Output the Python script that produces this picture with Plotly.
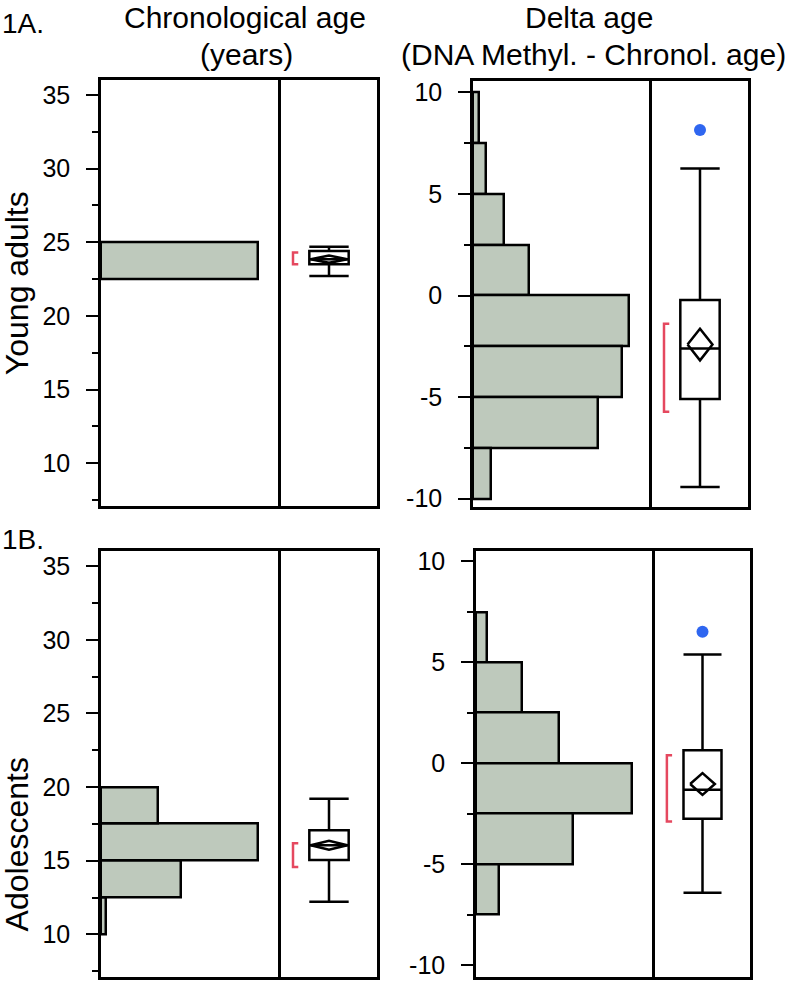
import plotly.graph_objects as go

W, H = 789, 987

# ---------------- data ----------------
bin_width = 2.5
# histograms (bin centres, percent of subjects)
ya_age_bins = [23.75]
ya_age_pct = [100.0]
ya_delta_bins = [8.75, 6.25, 3.75, 1.25, -1.25, -3.75, -6.25, -8.75]
ya_delta_pct = [1.1, 2.3, 5.6, 10.1, 28.2, 26.9, 22.6, 3.2]
ad_age_bins = [11.25, 13.75, 16.25, 18.75]
ad_age_pct = [1.7, 26.7, 52.7, 19.0]
ad_delta_bins = [6.25, 3.75, 1.25, -1.25, -3.75, -6.25]
ad_delta_pct = [2.6, 11.1, 20.0, 37.5, 23.3, 5.5]

# box stats: lower whisker, Q1, median, Q3, upper whisker
ya_age_box = [22.7, 23.5, 23.85, 24.4, 24.7]
ya_delta_box = [-9.42, -5.09, -2.6, -0.22, 6.25]
ad_age_box = [12.22, 15.04, 16.05, 17.06, 19.2]
ad_delta_box = [-6.42, -2.75, -1.32, 0.64, 5.39]

# mean diamonds: lower CI, mean, upper CI
ya_age_mean = [23.6, 23.85, 24.1]
ya_delta_mean = [-3.19, -2.41, -1.63]
ad_age_mean = [15.75, 16.05, 16.35]
ad_delta_mean = [-1.57, -1.03, -0.49]

# shortest half brackets
ya_age_short = [23.51, 24.31]
ya_delta_short = [-5.72, -1.39]
ad_age_short = [14.57, 16.18]
ad_delta_short = [-2.89, 0.39]

# outliers
ya_delta_out = [8.15]
ad_delta_out = [6.52]
no_out = []

# tick labels
age_ticks = [10, 15, 20, 25, 30, 35]
age_ticktext = ["10", "15", "20", "25", "30", "35"]
delta_ticks = [-10, -5, 0, 5, 10]
delta_ticktext = ["-10", "-5", "0", "5", "10"]

# ---------------- layout geometry (pixels) ----------------
def xf(px):
    return px / W

def yf(py):
    return 1 - py / H

FONT = "Liberation Sans, Arial, sans-serif"
GREEN = "#bec9bc"
RED = "#e5485f"
BLUE = "#2f66f0"
LW = 2.5

panels = [
    dict(bins=ya_age_bins, pct=ya_age_pct, box=ya_age_box, mean=ya_age_mean,
         short=ya_age_short, out=no_out, hist=(101, 281), bx=(281, 377), y=(77, 507),
         yr=[7.1, 36.0], tv=age_ticks, tt=age_ticktext, bw=0.41, dw=0.19),
    dict(bins=ya_delta_bins, pct=ya_delta_pct, box=ya_delta_box, mean=ya_delta_mean,
         short=ya_delta_short, out=ya_delta_out, hist=(473, 652), bx=(652, 748), y=(78, 508),
         yr=[-10.4, 10.55], tv=delta_ticks, tt=delta_ticktext, bw=0.41, dw=0.13),
    dict(bins=ad_age_bins, pct=ad_age_pct, box=ad_age_box, mean=ad_age_mean,
         short=ad_age_short, out=no_out, hist=(101, 281), bx=(281, 377), y=(553, 983),
         yr=[7.1, 36.0], tv=age_ticks, tt=age_ticktext, bw=0.41, dw=0.19),
    dict(bins=ad_delta_bins, pct=ad_delta_pct, box=ad_delta_box, mean=ad_delta_mean,
         short=ad_delta_short, out=ad_delta_out, hist=(476, 655), bx=(655, 750), y=(553, 983),
         yr=[-10.6, 10.5], tv=delta_ticks, tt=delta_ticktext, bw=0.40, dw=0.13),
]

def ref(letter, n):
    return letter if n == 1 else f"{letter}{n}"

def key(letter, n):
    return f"{letter}axis" if n == 1 else f"{letter}axis{n}"

fig = go.Figure()
layout = {}

for i, p in enumerate(panels):
    nh = 2 * i + 1
    nb = 2 * i + 2
    xh, yh = ref("x", nh), ref("y", nh)
    xb, yb = ref("x", nb), ref("y", nb)
    ydom = [yf(p["y"][1]), yf(p["y"][0])]

    # histogram
    fig.add_trace(go.Bar(
        y=p["bins"], x=p["pct"], orientation="h", width=bin_width,
        marker=dict(color=GREEN, line=dict(color="black", width=LW)),
        xaxis=xh, yaxis=yh, showlegend=False, hoverinfo="skip"))

    # box plot
    lw, q1, med, q3, uw = p["box"]
    fig.add_trace(go.Box(
        x=[0], q1=[q1], median=[med], q3=[q3], lowerfence=[lw], upperfence=[uw],
        width=p["bw"], whiskerwidth=1, fillcolor="white",
        line=dict(color="black", width=LW), boxpoints=False,
        xaxis=xb, yaxis=yb, showlegend=False, hoverinfo="skip"))

    # mean diamond
    lo, m, hi = p["mean"]
    dw = p["dw"]
    fig.add_trace(go.Scatter(
        x=[-dw, 0, dw, 0, -dw], y=[m, hi, m, lo, m], mode="lines",
        line=dict(color="black", width=LW), xaxis=xb, yaxis=yb,
        showlegend=False, hoverinfo="skip"))

    # shortest-half bracket
    s0, s1 = p["short"]
    fig.add_trace(go.Scatter(
        x=[-0.32, -0.375, -0.375, -0.32], y=[s1, s1, s0, s0], mode="lines",
        line=dict(color=RED, width=LW), xaxis=xb, yaxis=yb,
        showlegend=False, hoverinfo="skip"))

    # outliers
    if p["out"]:
        fig.add_trace(go.Scatter(
            x=[0] * len(p["out"]), y=p["out"], mode="markers",
            marker=dict(color=BLUE, size=12), xaxis=xb, yaxis=yb,
            showlegend=False, hoverinfo="skip"))

    maxv = max(p["pct"])
    layout[key("x", nh)] = dict(
        domain=[xf(p["hist"][0]), xf(p["hist"][1])], anchor=yh,
        range=[0, maxv * 1.147], showline=True, mirror=True, linecolor="black",
        linewidth=LW, showticklabels=False, ticks="", showgrid=False, zeroline=False,
        fixedrange=True)
    layout[key("x", nb)] = dict(
        domain=[xf(p["bx"][0]), xf(p["bx"][1])], anchor=yb,
        range=[-0.5, 0.5], showline=True, mirror=True, linecolor="black",
        linewidth=LW, showticklabels=False, ticks="", showgrid=False, zeroline=False,
        fixedrange=True)
    layout[key("y", nh)] = dict(
        domain=ydom, anchor=xh, range=p["yr"], showline=True, mirror=False,
        linecolor="black", linewidth=LW, ticks="outside", ticklen=12, tickwidth=2,
        tickcolor="black", tickmode="array", tickvals=p["tv"], ticktext=p["tt"],
        showgrid=False, zeroline=False,
        tickfont=dict(family=FONT, size=25, color="black"), ticklabelstandoff=11,
        minor=dict(dtick=2.5, tick0=0, ticks="outside", ticklen=6,
                   tickwidth=2, tickcolor="black", showgrid=False),
        fixedrange=True)
    layout[key("y", nb)] = dict(
        domain=ydom, anchor=xb, range=p["yr"], showline=True, mirror=True,
        linecolor="black", linewidth=LW, ticks="", showticklabels=False,
        showgrid=False, zeroline=False, fixedrange=True)

ann = []
def text(t, px, py, size, xanchor="center", angle=0):
    ann.append(dict(text=t, x=xf(px), y=yf(py), xref="paper", yref="paper",
                    showarrow=False, xanchor=xanchor, yanchor="middle",
                    textangle=angle, font=dict(family=FONT, size=size, color="black")))

text("1A.", 0, 20, 28, xanchor="left")
text("Chronological age", 245, 14, 30)
text("(years)", 246, 51, 30)
text("Delta age", 589, 14, 30)
text("(DNA Methyl. - Chronol. age)", 593, 51, 30)
text("1B.", 0, 541, 28, xanchor="left")
text("Young adults", 17, 282, 32, angle=-90)
text("Adolescents", 17, 849, 32, angle=-90)

fig.update_layout(
    width=W, height=H, autosize=False,
    margin=dict(l=0, r=0, t=0, b=0),
    paper_bgcolor="white", plot_bgcolor="white",
    showlegend=False, annotations=ann, bargap=0,
    **layout)

fig.write_html("out.html", config={"displayModeBar": False},
               post_script="document.body.style.margin='0';document.body.style.overflow='hidden';")
